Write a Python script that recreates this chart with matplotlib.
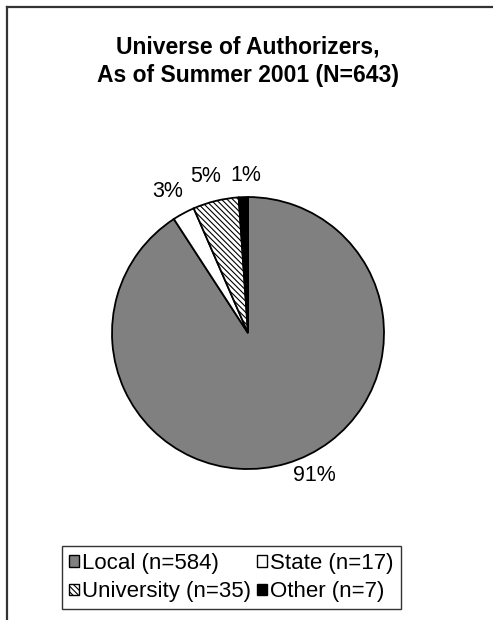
import matplotlib.pyplot as plt
from matplotlib.lines import Line2D
from matplotlib.patches import Patch

plt.rcParams['font.family'] = ['Liberation Sans', 'DejaVu Sans']
plt.rcParams['hatch.linewidth'] = 0.8

title = "Universe of Authorizers,\nAs of Summer 2001 (N=643)"
categories = ["Local", "State", "University", "Other"]
counts = [584, 17, 35, 7]
colors = ["#808080", "white", "white", "black"]
hatches = [None, None, "\\\\\\\\\\\\", None]
# label positions (data coords, radius = 1)
label_pos = [(0.485, -1.044), (-0.59, 1.04), (-0.31, 1.15), (-0.015, 1.16)]

fig = plt.figure(figsize=(4.93, 6.2), dpi=100)
ax = fig.add_axes([0.2272, 0.2435, 0.5517, 0.4387])

wedges, texts, autotexts = ax.pie(counts, colors=colors, startangle=90, counterclock=False,
                                  autopct='%1.0f%%', pctdistance=1.1,
                                  wedgeprops=dict(edgecolor='black', linewidth=1.3),
                                  textprops=dict(fontsize=15.5))
for w, h in zip(wedges, hatches):
    if h:
        w.set_hatch(h)
for t, p in zip(autotexts, label_pos):
    t.set_position(p)
    t.set_ha('center')
    t.set_va('center')
ax.set_xlim(-1, 1)
ax.set_ylim(-1, 1)

fig.text(0.503, 0.901, title, ha='center', va='center', fontsize=16.5,
         fontweight='bold', linespacing=1.3)

handles = [Patch(facecolor=c, edgecolor='black', hatch=h, label=f"{n} (n={v})")
           for c, h, n, v in zip(colors, hatches, categories, counts)]
# legend fills column by column: Local, University | State, Other
order = [0, 2, 1, 3]
leg = fig.legend(handles=[handles[i] for i in order], ncol=2, loc='center',
                 bbox_to_anchor=(0.4696, 0.0685),
                 fontsize=16, frameon=True, fancybox=False, edgecolor='black',
                 handlelength=0.45, handleheight=0.45, handletextpad=0.15,
                 columnspacing=0.25, borderpad=0.3, labelspacing=0.35,
                 borderaxespad=0)
leg.get_frame().set_linewidth(1.0)

# partial outer border (left and top)
fig.add_artist(Line2D([0.0142, 0.0142], [0, 0.988], color='#333333', linewidth=1.6,
                      transform=fig.transFigure))
fig.add_artist(Line2D([0.0142, 1], [0.988, 0.988], color='#333333', linewidth=1.6,
                      transform=fig.transFigure))

fig.savefig("out.png", dpi=100)
